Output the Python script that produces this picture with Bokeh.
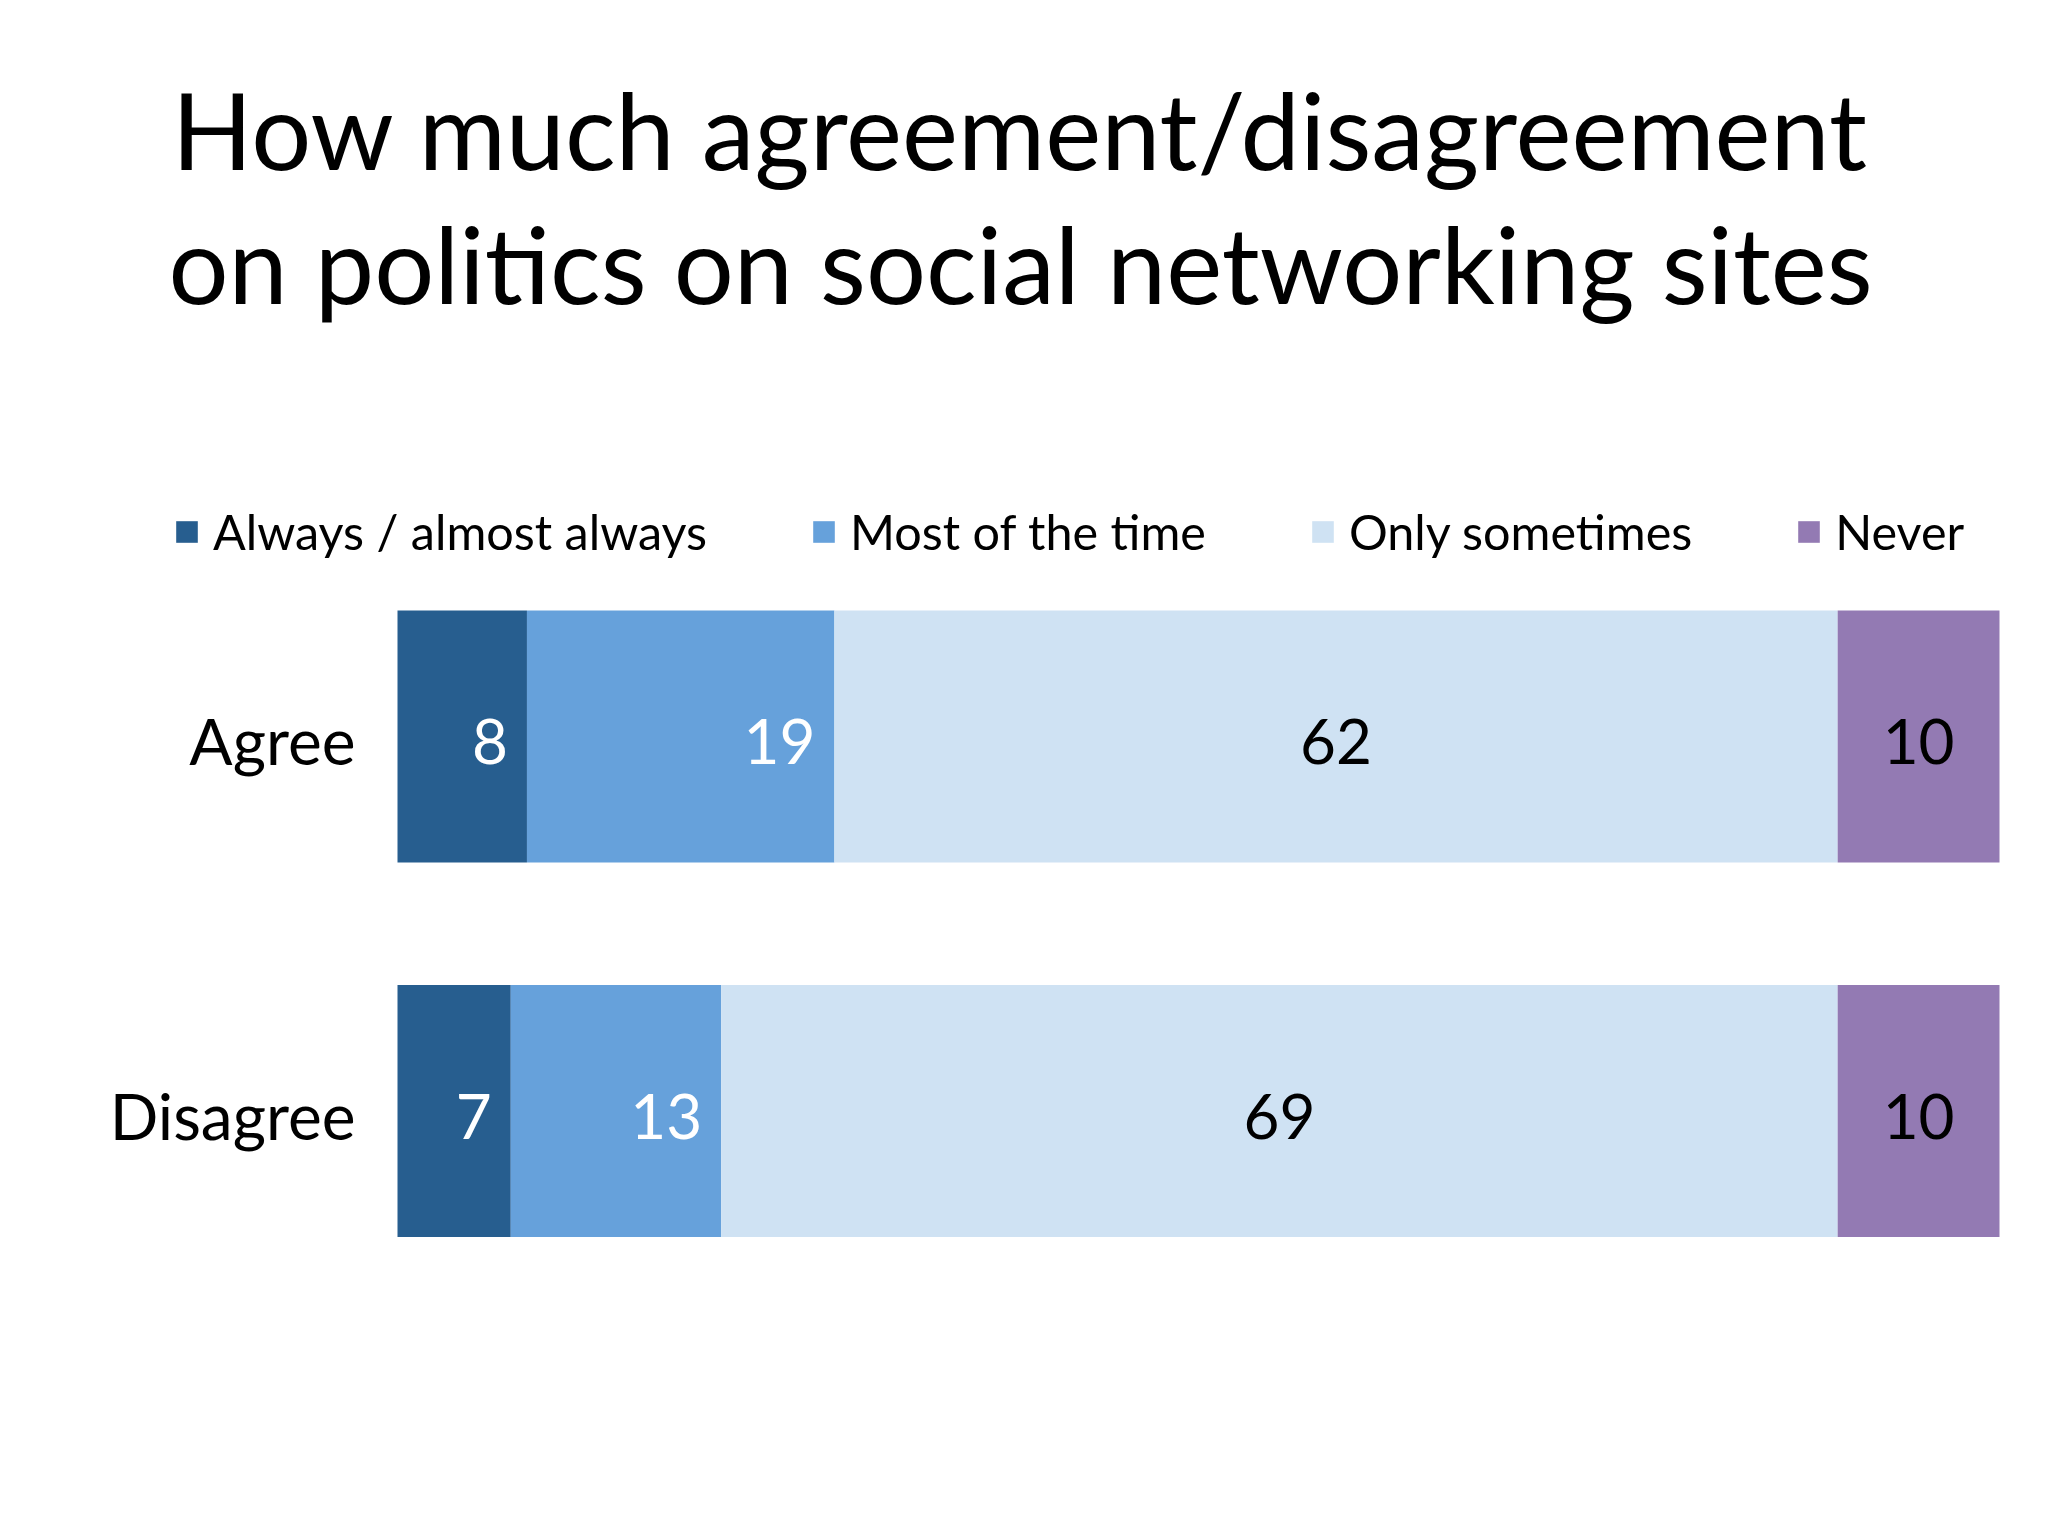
from bokeh.plotting import figure
from bokeh.models import ColumnDataSource, Range1d, Label, Legend, LegendItem
from bokeh.core.properties import value
from bokeh.embed import file_html
from bokeh.resources import INLINE

# ---- data ----
categories = ["Agree", "Disagree"]
series = ["Always / almost always", "Most of the time", "Only sometimes", "Never"]
always = [8, 7]
most = [19, 13]
sometimes = [62, 69]
never = [10, 10]
colors = ["#275E8F", "#66A1DB", "#CFE2F3", "#937AB3"]
title_lines = ["How much agreement/disagreement", "on politics on social networking sites"]

FONT = "Lato"
W, H = 2032, 1520

# ---- layout (pixel targets inside the canvas) ----
BAR_LEFT, BAR_RIGHT = 397, 1999          # px of value 0 and value 99
ROW_TOP, ROW_STEP = 736, 374.5           # px (from top) of first row centre, row spacing
total = 99
ppu = (BAR_RIGHT - BAR_LEFT) / total
x_start = -BAR_LEFT / ppu
x_end = total + (W - BAR_RIGHT) / ppu
# numeric row positions: row i at value -i ; 1 unit = ROW_STEP px
y_end = ROW_TOP / ROW_STEP
y_start = y_end - H / ROW_STEP

ypos = [-i for i in range(len(categories))]
keys = ["always", "most", "sometimes", "never"]
src = ColumnDataSource(dict(cat=categories, y=ypos, always=always, most=most,
                            sometimes=sometimes, never=never))

p = figure(width=W, height=H, output_backend="svg", toolbar_location=None,
           x_range=Range1d(x_start, x_end), y_range=Range1d(y_start, y_end),
           min_border=0, title=None)
p.outline_line_color = None
p.xgrid.visible = False
p.ygrid.visible = False
p.xaxis.visible = False
p.yaxis.visible = False

rs = p.hbar_stack(keys, y="y", height=0.673, color=colors, line_color=None, source=src)

# category labels
p.text(x=0, y="y", text="cat", source=src, text_align="right", text_baseline="middle",
       x_offset=-42, y_offset=4, text_font=value(FONT), text_font_size=value("64px"),
       text_color="black")

# value labels
n = len(categories)
end1 = [always[i] for i in range(n)]
end2 = [always[i] + most[i] for i in range(n)]
mid3 = [always[i] + most[i] + sometimes[i] / 2 for i in range(n)]
mid4 = [always[i] + most[i] + sometimes[i] + never[i] / 2 for i in range(n)]

right_src = ColumnDataSource(dict(x=end1 + end2, y=ypos + ypos,
                                  t=[str(v) for v in always + most]))
center_src = ColumnDataSource(dict(x=mid3 + mid4, y=ypos + ypos,
                                   t=[str(v) for v in sometimes + never]))
p.text(x="x", y="y", text="t", source=right_src, text_align="right",
       text_baseline="middle", x_offset=-19, y_offset=5,
       text_font=value(FONT), text_font_size=value("62px"), text_color="white")
p.text(x="x", y="y", text="t", source=center_src, text_align="center",
       text_baseline="middle", y_offset=5,
       text_font=value(FONT), text_font_size=value("62px"), text_color="black")

# legend
items = [LegendItem(label=s, renderers=[r]) for s, r in zip(series, rs)]
legend = Legend(items=items, location=(173, 960), orientation="horizontal",
                spacing=103, glyph_width=27, glyph_height=27, label_standoff=13,
                padding=0, margin=0, border_line_color=None, background_fill_alpha=0,
                label_text_font=FONT, label_text_font_size="48.5px",
                label_text_color="black", label_text_baseline="middle")
p.add_layout(legend)

# title
for i, line in enumerate(title_lines):
    p.add_layout(Label(x=1020, y=1392 - 134 * i, x_units="screen", y_units="screen",
                       text=line, text_align="center", text_baseline="alphabetic",
                       text_font=FONT, text_font_size="106px", text_color="black"))

open("out.html", "w").write(file_html(p, INLINE))
